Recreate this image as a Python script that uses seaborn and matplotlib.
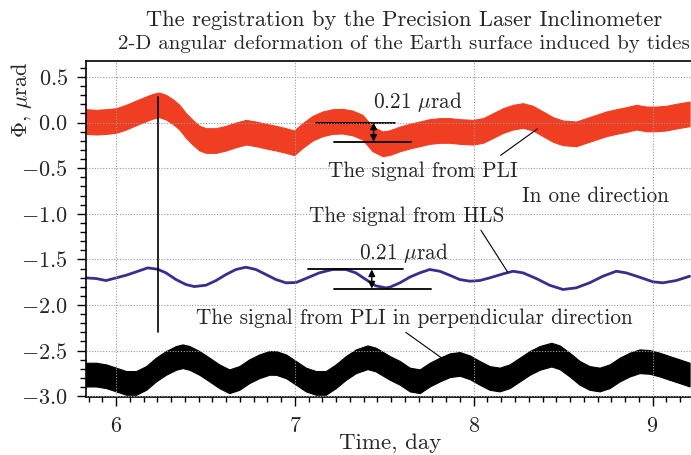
import matplotlib
matplotlib.use("Agg")
import matplotlib.pyplot as plt
import numpy as np
import pandas as pd
import seaborn as sns
from matplotlib.ticker import FixedLocator, FixedFormatter, MultipleLocator

# PLI signal (one direction): top edge of the noisy band and its full width
red_x = [5.832, 5.888, 5.944, 6.000, 6.056, 6.112, 6.168, 6.205, 6.242, 6.279, 6.317,
         6.354, 6.391, 6.428, 6.466, 6.503, 6.559, 6.615, 6.670, 6.726, 6.782, 6.838,
         6.894, 6.950, 6.996, 7.043, 7.099, 7.155, 7.210, 7.266, 7.322, 7.378, 7.434,
         7.490, 7.531, 7.587, 7.642, 7.698, 7.754, 7.810, 7.866, 7.922, 7.996, 8.052,
         8.108, 8.164, 8.220, 8.276, 8.331, 8.387, 8.443, 8.499, 8.573, 8.629, 8.685,
         8.741, 8.797, 8.853, 8.909, 8.965, 9.020, 9.076, 9.132, 9.207]
red_top = [0.146, 0.139, 0.146, 0.157, 0.194, 0.241, 0.285, 0.314, 0.329, 0.303, 0.256,
           0.194, 0.102, 0.029, -0.036, -0.062, -0.062, -0.036, 0.000, 0.029, 0.011, -0.014,
           -0.036, -0.062, -0.087, -0.007, 0.073, 0.121, 0.146, 0.150, 0.131, 0.084, -0.044,
           -0.098, -0.085, -0.044, -0.014, 0.011, 0.037, 0.048, 0.048, 0.037, 0.029, 0.048,
           0.102, 0.157, 0.194, 0.212, 0.183, 0.121, 0.059, 0.022, 0.011, 0.048, 0.084,
           0.121, 0.146, 0.168, 0.194, 0.175, 0.175, 0.183, 0.205, 0.230]
red_width = 0.27

# HLS signal
blue_x = [5.832, 5.888, 5.944, 6.000, 6.056, 6.112, 6.177, 6.233, 6.279, 6.335, 6.391,
          6.438, 6.503, 6.559, 6.615, 6.670, 6.726, 6.782, 6.838, 6.894, 6.950, 7.006,
          7.061, 7.136, 7.210, 7.285, 7.341, 7.397, 7.452, 7.508, 7.531, 7.587, 7.642,
          7.698, 7.754, 7.810, 7.866, 7.922, 7.978, 8.033, 8.089, 8.164, 8.220, 8.276,
          8.350, 8.424, 8.499, 8.573, 8.648, 8.722, 8.797, 8.853, 8.927, 9.002, 9.058,
          9.132, 9.207]
blue_y = [-1.703, -1.710, -1.732, -1.703, -1.674, -1.637, -1.593, -1.608, -1.648, -1.721, -1.776,
          -1.798, -1.783, -1.732, -1.666, -1.611, -1.586, -1.611, -1.666, -1.721, -1.757, -1.754,
          -1.710, -1.648, -1.611, -1.611, -1.648, -1.721, -1.790, -1.812, -1.805, -1.757, -1.695,
          -1.648, -1.611, -1.630, -1.674, -1.721, -1.739, -1.732, -1.703, -1.659, -1.630, -1.648,
          -1.710, -1.783, -1.830, -1.812, -1.757, -1.685, -1.630, -1.648, -1.695, -1.746, -1.757,
          -1.732, -1.685]

# PLI signal, perpendicular direction: top edge of the band and its full width
black_x = [5.832, 5.888, 5.944, 6.000, 6.056, 6.112, 6.168, 6.223, 6.279, 6.335, 6.372,
           6.410, 6.466, 6.522, 6.577, 6.633, 6.689, 6.745, 6.801, 6.857, 6.894, 6.950,
           7.006, 7.061, 7.117, 7.173, 7.229, 7.285, 7.341, 7.406, 7.452, 7.531, 7.587,
           7.642, 7.698, 7.754, 7.810, 7.866, 7.922, 7.978, 8.033, 8.089, 8.145, 8.201,
           8.257, 8.313, 8.369, 8.434, 8.480, 8.536, 8.592, 8.648, 8.704, 8.760, 8.816,
           8.872, 8.927, 8.983, 9.039, 9.095, 9.151, 9.207]
black_top = [-2.633, -2.633, -2.651, -2.687, -2.724, -2.724, -2.670, -2.578, -2.505, -2.450, -2.432,
             -2.450, -2.505, -2.578, -2.651, -2.706, -2.670, -2.596, -2.542, -2.505, -2.505, -2.542,
             -2.614, -2.687, -2.724, -2.724, -2.651, -2.560, -2.487, -2.443, -2.468, -2.560, -2.614,
             -2.687, -2.706, -2.633, -2.578, -2.530, -2.516, -2.553, -2.614, -2.670, -2.687, -2.651,
             -2.578, -2.505, -2.450, -2.414, -2.443, -2.523, -2.614, -2.670, -2.687, -2.651, -2.578,
             -2.523, -2.487, -2.494, -2.523, -2.560, -2.596, -2.633]
black_width = 0.26

x_major = [6, 7, 8, 9]
y_major = [-3.0, -2.5, -2.0, -1.5, -1.0, -0.5, 0.0, 0.5]

title_1 = "The registration by the Precision Laser Inclinometer"
title_2 = "2-D angular deformation of the Earth surface induced by tides"

sns.set_theme(style="ticks")
plt.rcParams["font.family"] = "serif"
plt.rcParams["font.serif"] = ["cmr10"]
plt.rcParams["mathtext.fontset"] = "cm"
plt.rcParams["axes.formatter.use_mathtext"] = True

fig = plt.figure(figsize=(6.91, 4.55), dpi=100)
ax = fig.add_axes([0.1245, 0.1268, 0.8755, 0.7398])

red = "#ef3e22"
red_top_a = np.array(red_top)
ax.fill_between(red_x, red_top_a - red_width, red_top_a, color=red, linewidth=0.8,
                edgecolor=red)
df_blue = pd.DataFrame({"t": blue_x, "phi": blue_y})
sns.lineplot(data=df_blue, x="t", y="phi", ax=ax, color="#3a2d8c", linewidth=2.0)
black_top_a = np.array(black_top)
ax.fill_between(black_x, black_top_a - black_width, black_top_a, color="black",
                linewidth=0.8, edgecolor="black")

ax.set_xlim(5.832, 9.215)
ax.set_ylim(-3.012, 0.678)

ax.xaxis.set_major_locator(FixedLocator(x_major))
ax.xaxis.set_minor_locator(FixedLocator([6 + k / 13 for k in range(-2, 43)]))
ax.yaxis.set_major_locator(FixedLocator(y_major))
ax.yaxis.set_major_formatter(FixedFormatter([f"${v:.1f}$" for v in y_major]))
ax.xaxis.set_major_formatter(FixedFormatter([f"${v}$" for v in x_major]))
ax.yaxis.set_minor_locator(MultipleLocator(0.1))
ax.tick_params(axis="both", which="major", direction="out", length=6.5, width=1.0,
               labelsize=16, color="black", bottom=True, left=True)
ax.tick_params(axis="x", which="minor", direction="out", length=3.5, width=1.0,
               color="black", bottom=True)
ax.tick_params(axis="y", which="minor", direction="out", length=4.3, width=1.0,
               color="black", left=True)
ax.tick_params(axis="x", which="major", pad=7.5)
ax.tick_params(axis="y", which="major", pad=6.5)
ax.grid(True, which="major", linestyle=(0, (1, 1.5)), color="#9a9a9a", linewidth=0.8)
ax.set_axisbelow(False)
for s in ax.spines.values():
    s.set_color("black")
    s.set_linewidth(1.2)
ax.spines["right"].set_visible(False)

ax.set_xlabel("")
ax.set_ylabel("")
fig.text(0.564, 0.027, "Time, day", fontsize=16.5, ha="center", va="center")
fig.text(0.031, 0.78, r"$\Phi$, $\mu$rad", rotation=90, fontsize=16, ha="center", va="center")
fig.text(0.585, 0.956, title_1, ha="center", va="center", fontsize=16.2)
fig.text(0.585, 0.903, title_2, ha="center", va="center", fontsize=15)

# annotations
ax.plot([6.236, 6.236], [-2.30, 0.28], color="black", linewidth=1.2)

ax.plot([7.12, 7.56], [0.0, 0.0], color="black", linewidth=1.3)
ax.plot([7.22, 7.65], [-0.21, -0.21], color="black", linewidth=1.3)
ax.annotate("", xy=(7.44, 0.0), xytext=(7.44, -0.21),
            arrowprops=dict(arrowstyle="<|-|>", color="black", lw=1.0, mutation_scale=10,
                            shrinkA=0, shrinkB=0))
ax.text(7.435, 0.23, r"0.21 $\mu$rad", fontsize=15.3, va="center", ha="left")

ax.plot([7.075, 7.605], [-1.61, -1.61], color="black", linewidth=1.3)
ax.plot([7.22, 7.76], [-1.82, -1.82], color="black", linewidth=1.3)
ax.annotate("", xy=(7.43, -1.61), xytext=(7.43, -1.82),
            arrowprops=dict(arrowstyle="<|-|>", color="black", lw=1.0, mutation_scale=10,
                            shrinkA=0, shrinkB=0))
ax.text(7.36, -1.43, r"0.21 $\mu$rad", fontsize=15.3, va="center", ha="left")

ax.text(7.715, -0.53, "The signal from PLI", fontsize=15.3, ha="center", va="center")
ax.plot([8.15, 8.356], [-0.36, -0.07], color="black", linewidth=0.8)
ax.text(8.27, -0.81, "In one direction", fontsize=15.3, ha="left", va="center")
ax.text(7.623, -1.03, "The signal from HLS", fontsize=15.3, ha="center", va="center")
ax.plot([8.04, 8.19], [-1.18, -1.64], color="black", linewidth=0.8)
ax.text(7.668, -2.15, "The signal from PLI in perpendicular direction", fontsize=15.3,
        ha="center", va="center")
ax.plot([7.62, 7.82], [-2.30, -2.58], color="black", linewidth=0.8)

fig.savefig("out.png", dpi=100)
